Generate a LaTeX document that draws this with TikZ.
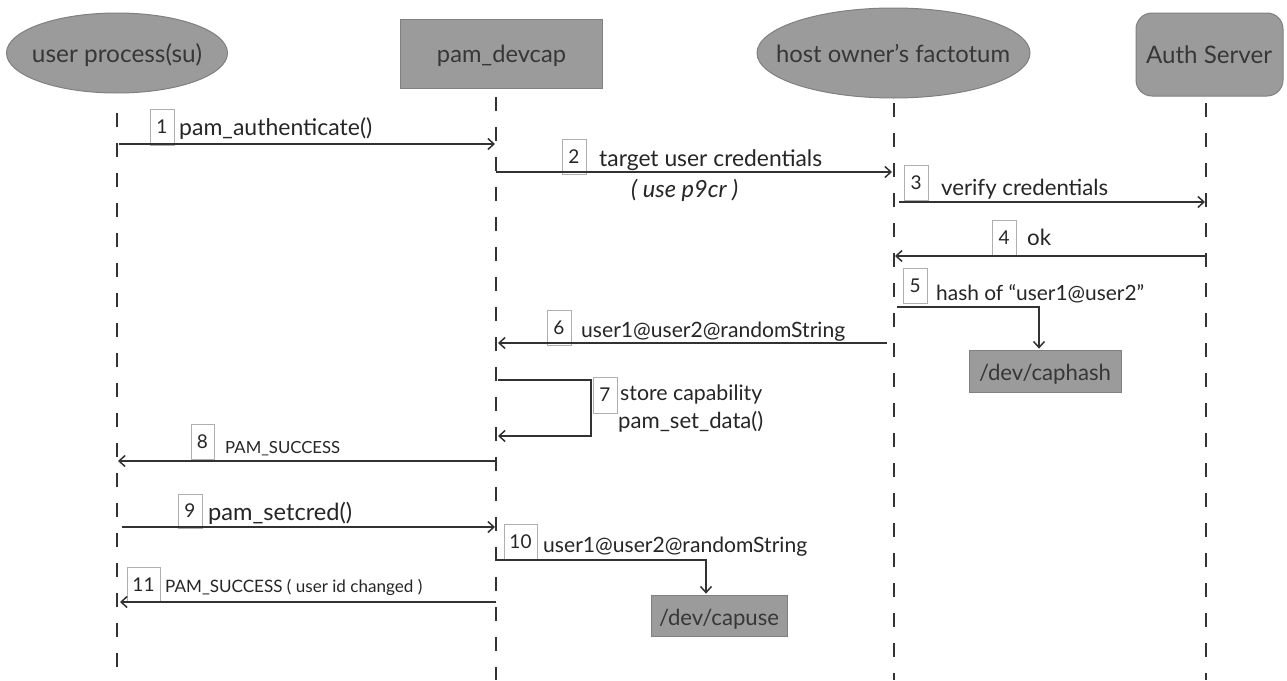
\documentclass[tikz,border=0pt]{standalone}
\usepackage{fontspec}
\setmainfont{Lato}
\usetikzlibrary{arrows.meta,shapes.geometric}
\definecolor{hdr}{RGB}{155,155,155}
\definecolor{hdrline}{RGB}{128,128,128}
\definecolor{ink}{RGB}{38,38,38}
\definecolor{hink}{RGB}{55,55,55}
\definecolor{lline}{RGB}{50,50,50}
\definecolor{nbox}{RGB}{175,175,175}
\newcommand{\fw}[2]{\resizebox{#1pt}{!}{#2}}
\begin{document}
\begin{tikzpicture}[x=1pt,y=-1pt,
  hdrshape/.style={draw=hdrline, fill=hdr, line width=1pt, inner sep=0},
  hdrtext/.style={anchor=base, inner sep=0, text=hink},
  life/.style={draw=lline, line width=2.6pt, dash pattern=on 14pt off 16pt},
  msg/.style={draw=lline, line width=1.5pt, -{Straight Barb[length=6pt,width=11pt,line width=1.5pt]}},
  numbox/.style={draw=nbox, line width=0.9pt, minimum width=24pt, minimum height=35pt, inner sep=0, font=\fontsize{19}{21}\selectfont, text=ink},
  mtext/.style={anchor=base west, inner sep=0, text=ink},
  devbox/.style={draw=hdrline, fill=hdr, line width=0.8pt, inner sep=0},
]
\useasboundingbox (0,0) rectangle (1287,680);
\fill[white] (0,0) rectangle (1287,680);

% headers
\node[hdrshape, ellipse, minimum width=221pt, minimum height=80pt] (U) at (117,53) {};
\node[hdrshape, rectangle, minimum width=202pt, minimum height=69pt] (P) at (501,53.5) {};
\node[hdrshape, ellipse, minimum width=273pt, minimum height=90pt] (F) at (893.5,53) {};
\node[hdrshape, rectangle, rounded corners=16pt, minimum width=147pt, minimum height=83pt] (A) at (1209.5,54.5) {};
\node[hdrtext] (Ut) at (117,62) {\fw{170}{user process(su)}};
\node[hdrtext] (Pt) at (501.5,62) {\fw{129}{pam\_devcap}};
\node[hdrtext] (Ft) at (893,62) {\fw{234}{host owner’s factotum}};
\node[hdrtext] (At) at (1209,63) {\fw{126}{Auth Server}};

% lifelines
\coordinate (Ua) at (117,113); \coordinate (Ub) at (117,680);
\coordinate (Pa) at (496,97);  \coordinate (Pb) at (496,680);
\coordinate (Fa) at (894,103); \coordinate (Fb) at (894,680);
\coordinate (Aa) at (1206,103); \coordinate (Ab) at (1206,680);
\draw[life] (Ua) -- (Ub);
\draw[life] (Pa) -- (Pb);
\draw[life] (Fa) -- (Fb);
\draw[life] (Aa) -- (Ab);

% number boxes
\node[numbox, minimum height=36pt] (n1) at (162,127) {1};
\node[numbox] (n2) at (574,156.5) {2};
\node[numbox] (n3) at (916,182.5) {3};
\node[numbox] (n4) at (1004,237.5) {4};
\node[numbox] (n5) at (915,285.5) {5};
\node[numbox] (n6) at (559,327.5) {6};
\node[numbox, minimum height=36pt] (n7) at (605,395) {7};
\node[numbox, minimum width=23pt] (n8) at (202.5,441.5) {8};
\node[numbox, minimum height=34pt] (n9) at (190,511) {9};
\node[numbox, minimum width=33pt] (n10) at (520.5,541.5) {10};
\node[numbox, minimum width=33pt] (n11) at (143.5,584.5) {11};

% device boxes
\node[devbox, minimum width=152pt, minimum height=42pt] (caphash) at (1045,371) {};
\node[devbox, minimum width=136pt, minimum height=41pt] (capuse) at (719,615.5) {};
\node[hdrtext] (caphasht) at (1045,380) {\fw{132}{/dev/caphash}};
\node[hdrtext] (capuset) at (719,625) {\fw{120}{/dev/capuse}};

% message end points
\coordinate (m1s) at (119,144);  \coordinate (m1e) at (495,144);
\coordinate (m2s) at (496,172);  \coordinate (m2e) at (892,172);
\coordinate (m3s) at (899,202);  \coordinate (m3e) at (1205,202);
\coordinate (m4s) at (1206,256); \coordinate (m4e) at (895,256);
\coordinate (m5s) at (897,307);
\coordinate (m6s) at (887,343);  \coordinate (m6e) at (498,343);
\coordinate (m7s) at (498,380);  \coordinate (m7a) at (591,380);
\coordinate (m7b) at (591,436);  \coordinate (m7e) at (498,436);
\coordinate (m8s) at (495,461);  \coordinate (m8e) at (118,461);
\coordinate (m9s) at (122,527);  \coordinate (m9e) at (495,527);
\coordinate (m10s) at (496,560);
\coordinate (m11s) at (496,602); \coordinate (m11e) at (120,602);

% messages
\draw[msg] (m1s) -- (m1e);
\draw[msg] (m2s) -- (m2e);
\draw[msg] (m3s) -- (m3e);
\draw[msg] (m4s) -- (m4e);
\draw[msg] (m5s) -| ([xshift=-6pt,yshift=1pt]caphash.north);
\draw[msg] (m6s) -- (m6e);
\draw[msg] (m7s) -- (m7a) -- (m7b) -- (m7e);
\draw[msg] (m8s) -- (m8e);
\draw[msg] (m9s) -- (m9e);
\draw[msg] (m10s) -| ([xshift=-13pt,yshift=1pt]capuse.north);
\draw[msg] (m11s) -- (m11e);

% message texts
\node[mtext] (t1) at (179,135) {\fw{193}{pam\_authenticate()}};
\node[mtext] (t2) at (599,166) {\fw{223}{target user credentials}};
\node[mtext] (t2b) at (631,197) {\fw{107}{\itshape ( use p9cr )}};
\node[mtext] (t3) at (941,195) {\fw{167}{verify credentials}};
\node[mtext] (t4) at (1027,245) {\fw{24}{ok}};
\node[mtext] (t5) at (936,300) {\fw{208}{hash of “user1@user2”}};
\node[mtext] (t6) at (581,337) {\fw{264}{user1@user2@randomString}};
\node[mtext] (t7a) at (620,400) {\fw{142}{store capability}};
\node[mtext] (t7b) at (618,428) {\fw{145}{pam\_set\_data()}};
\node[mtext] (t8) at (225,453) {\fw{115}{PAM\_SUCCESS}};
\node[mtext] (t9) at (208,520) {\fw{144}{pam\_setcred()}};
\node[mtext] (t10) at (543,552) {\fw{264}{user1@user2@randomString}};
\node[mtext] (t11) at (165,592) {\fw{257}{PAM\_SUCCESS ( user id changed )}};
\end{tikzpicture}
\end{document}
